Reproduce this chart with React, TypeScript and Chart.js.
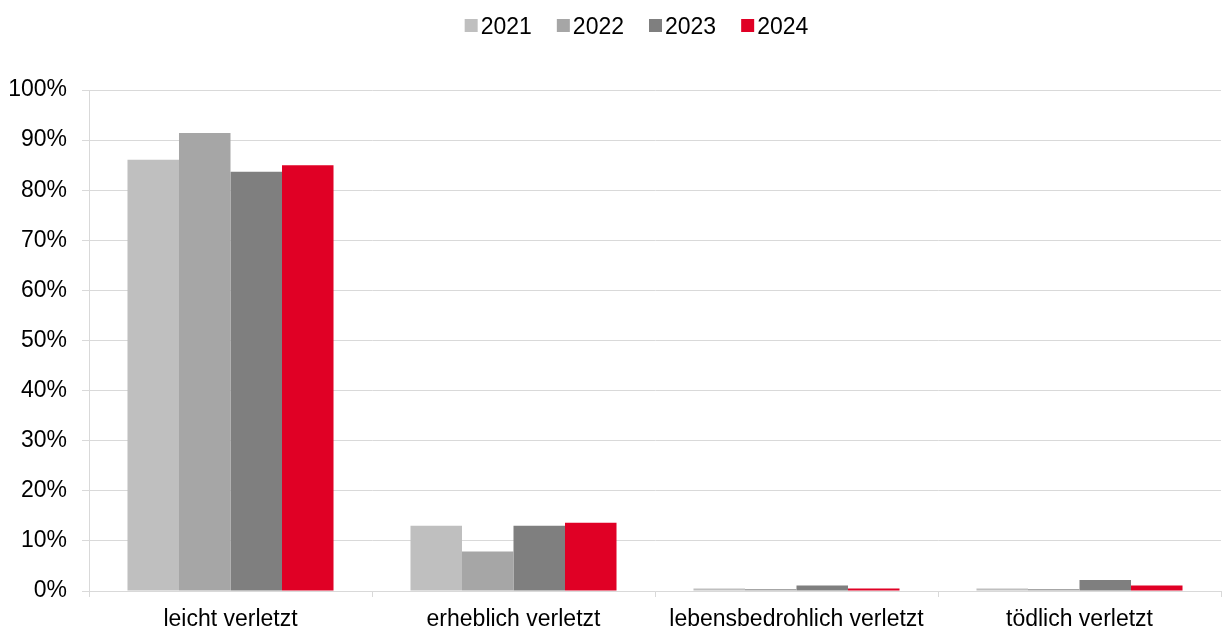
import React, { useEffect, useRef } from "react";
import { Chart, registerables } from "chart.js";

Chart.register(...registerables);

const categories = ["leicht verletzt", "erheblich verletzt", "lebensbedrohlich verletzt", "tödlich verletzt"];
const years = ["2021", "2022", "2023", "2024"];
const values2021 = [86.1, 13.0, 0.5, 0.5];
const values2022 = [91.4, 7.9, 0.4, 0.4];
const values2023 = [83.7, 13.0, 1.1, 2.2];
const values2024 = [85.0, 13.6, 0.5, 1.1];
const colors = ["#BFBFBF", "#A6A6A6", "#7F7F7F", "#E00025"];
const yTicks = [0, 10, 20, 30, 40, 50, 60, 70, 80, 90, 100];

const FONT = "'Liberation Sans', Arial, sans-serif";
const FONT_SIZE = 23;

export default function App() {
  const ref = useRef<HTMLCanvasElement | null>(null);
  useEffect(() => {
    document.body.style.margin = "0";
    const ctx = ref.current!;
    const series = [values2021, values2022, values2023, values2024];

    // Compact legend: square, tiny gap, text
    const compactLegend = {
      id: "compactLegend",
      afterDraw(chart: any) {
        const c = chart.ctx;
        c.save();
        c.font = `${FONT_SIZE}px ${FONT}`;
        c.textBaseline = "alphabetic";
        c.textAlign = "left";
        const box = 13;
        const gap = 3;
        const itemGap = 25;
        const items = chart.data.datasets.map((d: any) => ({
          label: d.label,
          color: d.backgroundColor,
          w: c.measureText(d.label).width,
        }));
        const total =
          items.reduce((s: number, it: any) => s + box + gap + it.w, 0) + itemGap * (items.length - 1);
        let x = chart.width / 2 + 25 - total / 2;
        const baseline = 34;
        items.forEach((it: any) => {
          c.fillStyle = it.color;
          c.fillRect(x, 19, box, box);
          x += box + gap;
          c.fillStyle = "#000";
          c.fillText(it.label, x, baseline);
          x += it.w + itemGap;
        });
        c.restore();
      },
    };

    const chart = new Chart(ctx, {
      type: "bar",
      data: {
        labels: categories,
        datasets: years.map((y, i) => ({
          label: y,
          data: series[i],
          backgroundColor: colors[i],
          borderWidth: 0,
          categoryPercentage: 0.728,
          barPercentage: 1,
        })),
      },
      options: {
        animation: false,
        responsive: false,
        maintainAspectRatio: false,
        layout: { padding: { top: 90, left: 8, right: 2, bottom: 2 } },
        plugins: {
          tooltip: { enabled: false },
          legend: { display: false },
        },
        scales: {
          x: {
            afterFit(axis: any) {
              axis.height = 40;
            },
            grid: {
              offset: true,
              drawOnChartArea: false,
              color: "#D9D9D9",
              tickLength: 6,
            },
            border: { color: "#D9D9D9" },
            ticks: {
              color: "#000",
              font: { family: FONT, size: FONT_SIZE },
              padding: 9,
              maxRotation: 0,
            },
          },
          y: {
            min: 0,
            max: 100,
            afterFit(axis: any) {
              axis.width = 81;
            },
            afterBuildTicks(axis: any) {
              axis.ticks = yTicks.map((v) => ({ value: v }));
            },
            grid: { color: "#D9D9D9", tickLength: 7 },
            border: { color: "#D9D9D9" },
            ticks: {
              color: "#000",
              font: { family: FONT, size: FONT_SIZE },
              padding: 15,
              callback: (v: any) => v + "%",
            },
          },
        },
      },
      plugins: [compactLegend],
    } as any);
    return () => chart.destroy();
  }, []);
  return (
    <div style={{ width: 1223, height: 633 }}>
      <canvas ref={ref} width={1223} height={633} style={{ display: "block" }} />
    </div>
  );
}
